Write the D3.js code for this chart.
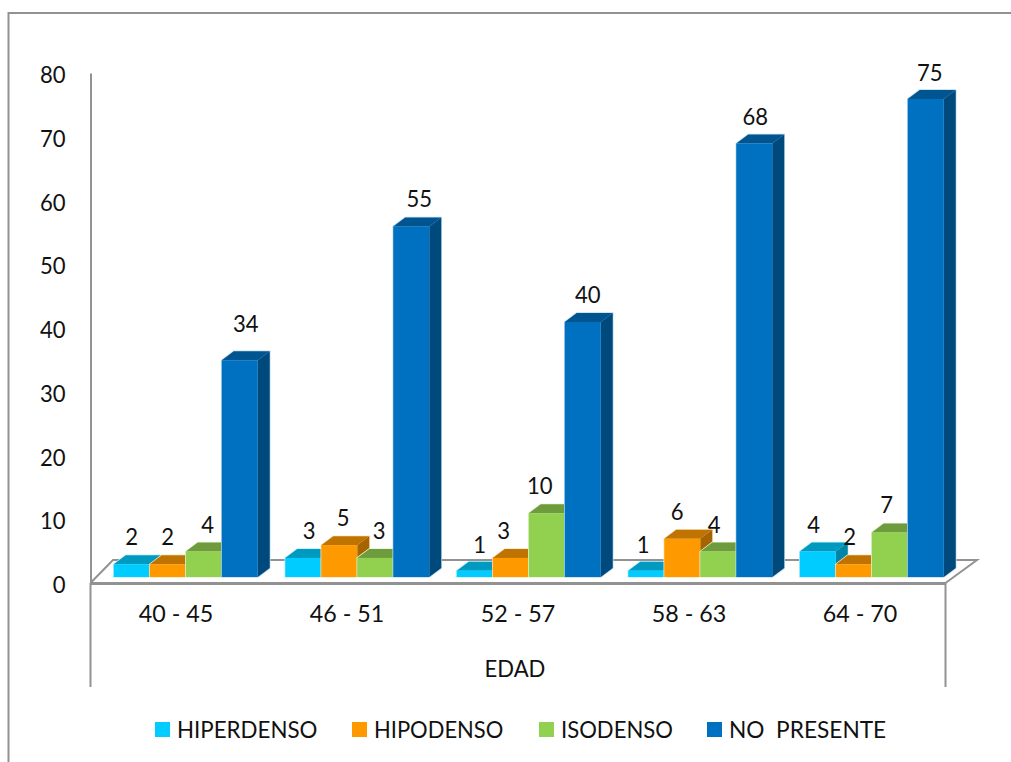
<!DOCTYPE html>
<html>
<head>
<meta charset="utf-8">
<script src="https://cdn.jsdelivr.net/npm/d3@7"></script>
<style>
html,body{margin:0;padding:0;background:#fff;overflow:hidden}
svg{display:block}
text{font-family:Lato,"Open Sans",sans-serif;fill:#111}
</style>
</head>
<body>
<svg id="chart" width="1011" height="762"></svg>
<script>
// Age groups and lesion density series
const categories = ["40 - 45", "46 - 51", "52 - 57", "58 - 63", "64 - 70"];
const seriesNames = ["HIPERDENSO", "HIPODENSO", "ISODENSO", "NO  PRESENTE"];
const hiperdenso = [2, 3, 1, 1, 4];
const hipodenso = [2, 5, 3, 6, 2];
const isodenso = [4, 3, 10, 4, 7];
const noPresente = [34, 55, 40, 68, 75];
const yTicks = [0, 10, 20, 30, 40, 50, 60, 70, 80];
const axisTitle = "EDAD";

// Hand placement of the data labels, by series then by age group: [dx, dy]
const labelShifts = [
  [[0, 0], [6, 0], [5, 1], [-3, 1], [-4, 0]],
  [[0, 0], [4, 0], [-7, 0], [-5, 0], [-4, 0]],
  [[4, 0], [4, 0], [-7, 0], [-4, 0], [-3, 0]],
  [[6, -9], [8, 0], [5, 0], [1, 0], [4, 1]]
];

const frontColors = ["#00CCFF", "#FF9900", "#92D050", "#0070C0"];
const topColors = ["#0099BF", "#BF7300", "#6E9C3C", "#005490"];
const sideColors = ["#0085A6", "#A66400", "#5F8734", "#00497D"];
const haloColors = ["#BFF2FF", "#FFE5BF", "#E3F3D3", "#BFDBEF"];
const allValues = [hiperdenso, hipodenso, isodenso, noPresente];

const svg = d3.select("#chart");
const depthX = 12, depthY = 9, floorLift = 6;
const wallX = 22.5, wallY = 23;
const fontPx = 24;

// Lato set tall but condensed, for a compact humanist look
const condense = (sel, squeeze = 0.92) => sel
  .style("font-size", fontPx + "px")
  .style("font-family", "Lato")
  .attr("fill", "#111")
  .each(function () {
    this.setAttribute("lengthAdjust", "spacingAndGlyphs");
    this.setAttribute("textLength", this.getComputedTextLength() * squeeze);
  });

const y = d3.scaleLinear().domain([0, 80]).range([583, 73]);
// Bars stand a little behind the front edge of the floor
const yBar = v => y(v) - floorLift;
const xAxisBand = d3.scaleBand().domain(categories).range([90.5, 945.5]);
const xGroup = d3.scaleBand().domain(categories).range([100, 957.5]);
const xSeries = d3.scaleBand().domain(seriesNames).range([-72, 72]);

const grey = "#929292";

// Outer chart frame, open at the right and the bottom
svg.append("path")
  .attr("d", "M8.5,762V13H1011")
  .attr("fill", "none").attr("stroke", grey).attr("stroke-width", 2);

// Floor outline
const x0 = xAxisBand.range()[0], x1 = xAxisBand.range()[1], yZero = y(0);
svg.append("path")
  .attr("d", `M${x0},${yZero}L${x0 + wallX},${yZero - wallY}H${x1 + wallX + 9}L${x1},${yZero}`)
  .attr("fill", "none").attr("stroke", grey).attr("stroke-width", 2);

// Value axis
const yAxis = svg.append("g")
  .attr("transform", `translate(${x0},0)`)
  .call(d3.axisLeft(y).tickValues(yTicks).tickSize(0).tickPadding(25));
yAxis.select(".domain").attr("stroke", grey).attr("stroke-width", 2);
condense(yAxis.selectAll("text")).attr("dy", "0.4em");

// Category axis with its two-level label brackets
const xAxis = svg.append("g")
  .attr("transform", `translate(0,${yZero})`)
  .call(d3.axisBottom(xAxisBand).tickSize(0).tickPadding(22));
xAxis.select(".domain").attr("stroke", grey).attr("stroke-width", 3);
condense(xAxis.selectAll("text"), 0.97);

[x0, x1].forEach(x => {
  svg.append("line")
    .attr("x1", x).attr("x2", x).attr("y1", yZero).attr("y2", 687)
    .attr("stroke", grey).attr("stroke-width", 2);
});
condense(svg.append("text")
  .attr("x", (x0 + x1) / 2 - 3).attr("y", 677)
  .attr("text-anchor", "middle").text(axisTitle), 0.92);

// 3D columns: front face, top face and right side
const bars = svg.append("g");
const drawSeries = s => {
  const g = bars.append("g");
  categories.forEach((c, i) => {
    const v = allValues[s][i];
    const left = xGroup(c) + xGroup.bandwidth() / 2 + xSeries(seriesNames[s]);
    const w = xSeries.bandwidth();
    const top = yBar(v), base = yBar(0);
    // Pale halo along the column's edges
    g.append("path")
      .attr("d", `M${left},${base}V${top}l${depthX},${-depthY}h${w}V${base - depthY}L${left + w},${base}Z`)
      .attr("fill", haloColors[s]).attr("stroke", haloColors[s]).attr("stroke-width", 1.5);
    g.append("path")
      .attr("d", `M${left + w},${top}l${depthX},${-depthY}V${base - depthY}L${left + w},${base}Z`)
      .attr("fill", sideColors[s]);
    g.append("path")
      .attr("d", `M${left},${top}l${depthX},${-depthY}h${w}l${-depthX},${depthY}Z`)
      .attr("fill", topColors[s]);
    g.append("rect")
      .attr("x", left).attr("y", top).attr("width", w).attr("height", base - top)
      .attr("fill", frontColors[s]);
  });
};
// Paint the series left to right so nearer faces cover the sides behind them
seriesNames.forEach((_, s) => drawSeries(s));

// Data labels
const labels = svg.append("g");
allValues.forEach((vals, s) => {
  vals.forEach((v, i) => {
    const c = categories[i];
    const cx = xGroup(c) + xGroup.bandwidth() / 2 + xSeries(seriesNames[s]) + xSeries.bandwidth() / 2;
    condense(labels.append("text")
      .attr("x", cx + labelShifts[s][i][0])
      .attr("y", yBar(v) - 19 + labelShifts[s][i][1])
      .attr("text-anchor", "middle").text(v));
  });
});

// Legend
const legendX = [155, 352, 539, 707];
const legendSqueeze = [0.93, 0.915, 0.92, 0.945];
const legend = svg.append("g");
seriesNames.forEach((name, s) => {
  legend.append("rect")
    .attr("x", legendX[s]).attr("y", 722).attr("width", 15).attr("height", 15)
    .attr("fill", frontColors[s]);
  condense(legend.append("text")
    .attr("x", legendX[s] + 22).attr("y", 738)
    .style("white-space", "pre").text(name), legendSqueeze[s]);
});
</script>
</body>
</html>
